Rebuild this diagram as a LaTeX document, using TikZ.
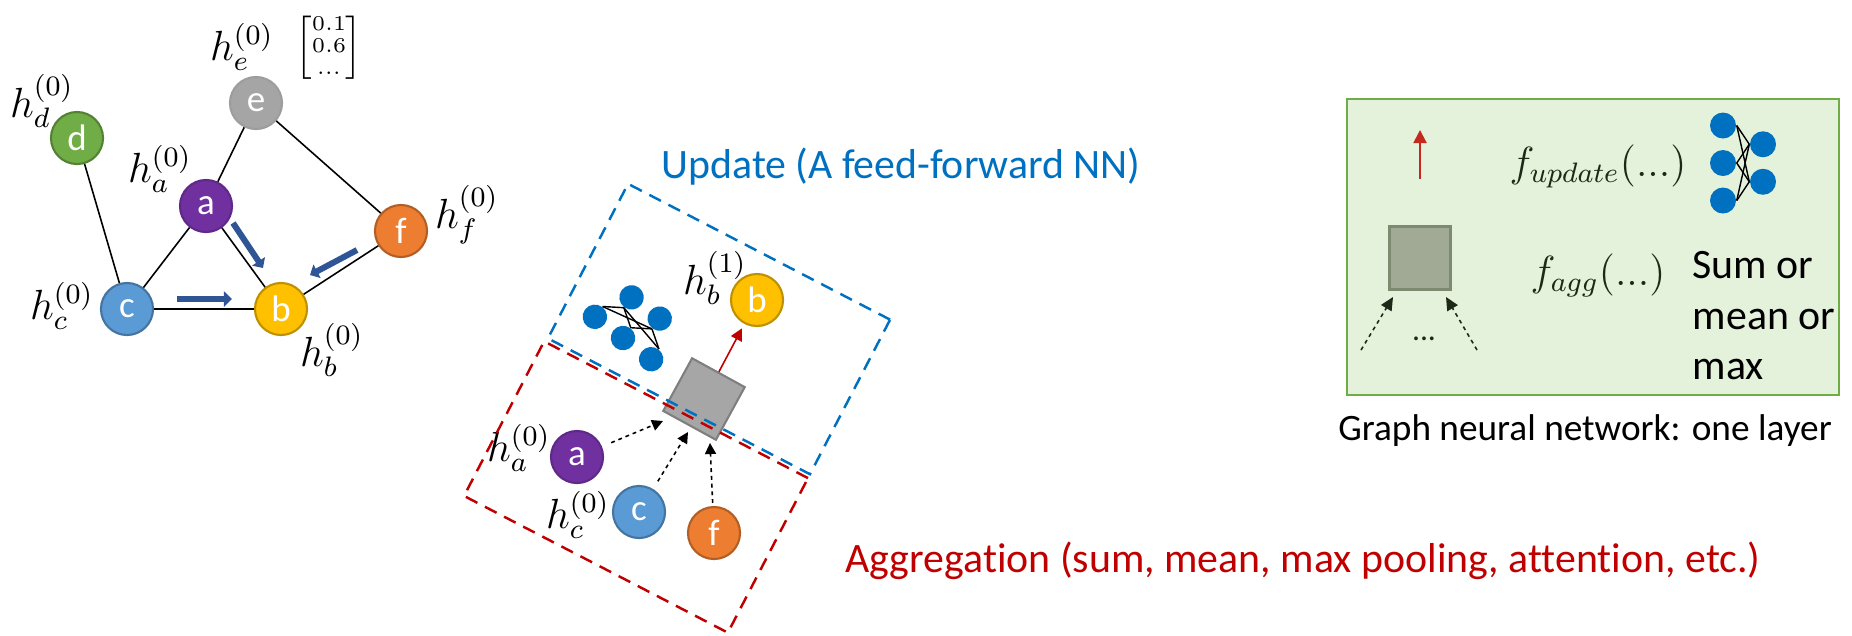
\documentclass[tikz,border=0pt]{standalone}
\usepackage{fontspec}
\newfontfamily\calib[Ligatures=NoCommon]{Carlito}
\usetikzlibrary{arrows.meta}

\definecolor{pura}{RGB}{112,48,160}
\definecolor{goldb}{RGB}{255,192,0}
\definecolor{bluec}{RGB}{91,155,213}
\definecolor{greend}{RGB}{112,173,71}
\definecolor{greye}{RGB}{165,165,165}
\definecolor{orangef}{RGB}{237,125,49}
\definecolor{msgblue}{RGB}{47,85,151}
\definecolor{upblue}{RGB}{0,112,192}
\definecolor{aggred}{RGB}{192,0,0}
\definecolor{panelfill}{RGB}{229,242,219}
\definecolor{panelline}{RGB}{112,173,71}
\definecolor{darkink}{RGB}{30,40,22}
\definecolor{uparrowred}{RGB}{197,40,28}

\tikzset{
  vertex/.style={circle,minimum size=0.52cm,inner sep=0pt,line width=0.6pt,
    text=white,font=\calib\fontsize{10.5}{12}\selectfont},
  nodea/.style={vertex,fill=pura,draw=pura!85!black},
  nodeb/.style={vertex,fill=goldb,draw=goldb!75!black},
  nodec/.style={vertex,fill=bluec,draw=bluec!75!black},
  noded/.style={vertex,fill=greend,draw=greend!75!black},
  nodee/.style={vertex,fill=greye,draw=greye!95!black},
  nodef/.style={vertex,fill=orangef,draw=orangef!75!black},
  link/.style={line width=0.45pt,black},
  hlab/.style={inner sep=0pt,font=\fontsize{11.5}{13}\selectfont},
  msgarrow/.style={line width=0.06cm,msgblue,-{Triangle[length=0.08cm,width=0.15cm]}},
  neuron/.style={circle,fill=upblue,minimum size=0.26cm,inner sep=0pt},
  nnline/.style={line width=0.4pt,black},
  sqbox/.style={minimum size=0.6cm,inner sep=0pt,fill={rgb,255:red,166;green,166;blue,166},
    draw={rgb,255:red,127;green,127;blue,127},line width=0.6pt},
  aggarrow/.style={line width=0.45pt,black,dash pattern=on 1.1pt off 1.1pt,
    -{Triangle[length=0.11cm,width=0.11cm]}},
  updarrow/.style={line width=0.45pt,aggred,-{Triangle[length=0.12cm,width=0.12cm]}},
  updbox/.style={draw=upblue,line width=0.7pt,dash pattern=on 0.13cm off 0.085cm,inner sep=0pt},
  aggbox/.style={draw=aggred,line width=0.7pt,dash pattern=on 0.13cm off 0.085cm,inner sep=0pt},
  bigtext/.style={font=\calib\fontsize{11.9}{14}\selectfont,inner sep=0pt,anchor=base},
  panel/.style={fill=panelfill,draw=panelline,line width=0.5pt,inner sep=0pt,
    minimum width=4.92cm,minimum height=2.96cm},
  sqpanel/.style={minimum width=0.61cm,minimum height=0.63cm,inner sep=0pt,
    fill={rgb,255:red,160;green,170;blue,148},draw={rgb,255:red,125;green,138;blue,112},line width=0.6pt},
  panelarrow/.style={line width=0.45pt,darkink,dash pattern=on 1.1pt off 1.1pt,
    -{Triangle[length=0.13cm,width=0.12cm]}},
  panelup/.style={line width=0.6pt,uparrowred,-{Triangle[length=0.13cm,width=0.13cm]}},
}

% small feed-forward net, 3 inputs and 2 outputs
\newcommand{\nnicon}[1]{%
  \foreach \k/\yy in {1/-37.5,2/0,3/37.5}
    \node[neuron] (#1i\k) at (0,\yy) {};
  \foreach \k/\yy in {1/-18.75,2/18.75}
    \node[neuron] (#1o\k) at (40,\yy) {};
  \foreach \i in {1,2,3}
    \foreach \o in {1,2}
      \draw[nnline] (#1i\i.east) -- (#1o\o.west);
}

\begin{document}
\begin{tikzpicture}[x=0.01cm,y=-0.01cm]
\useasboundingbox (0,0) rectangle (1852,635);

% input graph
\node[nodea] (a) at (206,206) {a};
\node[nodeb] (b) at (281,309) {b};
\node[nodec] (c) at (127,309) {c};
\node[noded] (d) at (77,138) {d};
\node[nodee] (e) at (256,103) {e};
\node[nodef] (f) at (401,231) {f};

\draw[link] (d) -- (c) -- (a) -- (e) -- (f) -- (b) -- (c);
\draw[link] (a) -- (b);

\node[hlab] (hla) at (160,169) {$h_a^{(0)}$};
\node[hlab] (hlb) at (332,350) {$h_b^{(0)}$};
\node[hlab] (hlc) at (62,306) {$h_c^{(0)}$};
\node[hlab] (hld) at (42,101) {$h_d^{(0)}$};
\node[hlab] (hle) at (242,47) {$h_e^{(0)}$};
\node[hlab] (hlf) at (467,215) {$h_f^{(0)}$};
\node[inner sep=0pt,font=\fontsize{6.5}{8.5}\selectfont] (vec) at (329,48)
  {\renewcommand{\arraystretch}{0.74}$\left[\begin{array}{@{}c@{}}0.1\\0.6\\...\end{array}\right]$};

% messages into b
\coordinate (ab1) at (233,223);
\coordinate (ab2) at (263,268);
\coordinate (fb1) at (357,250);
\coordinate (fb2) at (310,275);
\coordinate (cb1) at (177,299);
\coordinate (cb2) at (232,299);
\draw[msgarrow] (ab1) -- (ab2);
\draw[msgarrow] (fb1) -- (fb2);
\draw[msgarrow] (cb1) -- (cb2);

% one layer for node b
\node[sqbox,rotate=-28.7] (sq) at (704,399) {};
\begin{scope}[shift={(623,338)},rotate=53,scale=0.94,transform shape]
  \nnicon{m}
\end{scope}

\node[nodeb] (b2) at (757,300) {b};
\node[nodea] (a2) at (577,457) {a};
\node[nodec] (c2) at (639,512) {c};
\node[nodef] (f2) at (714,533) {f};
\node[hlab] (hlb2) at (715,278) {$h_b^{(1)}$};
\node[hlab] (hla2) at (519,448) {$h_a^{(0)}$};
\node[hlab] (hlc2) at (578,515) {$h_c^{(0)}$};

\coordinate (ta) at (663,421);
\coordinate (tc) at (688,432);
\coordinate (tf) at (710,443);
\draw[aggarrow,shorten <=0.1cm] (a2) -- (ta);
\draw[aggarrow,shorten <=0.09cm] (c2) -- (tc);
\draw[aggarrow,shorten <=0.03cm] (f2) -- (tf);
\draw[updarrow,shorten >=0.05cm] (sq.north) -- (b2);

\node[updbox,minimum width=2.95cm,minimum height=1.74cm,rotate=-27.4] (upd) at (719,329) {};
\node[aggbox,minimum width=2.97cm,minimum height=1.74cm,rotate=-27.4] (aggr) at (636,487) {};

\node[bigtext,text=upblue] (updtxt) at (901,178) {Update (A feed-forward NN)};
\node[bigtext,text=aggred] (aggtxt) at (1303,572) {Aggregation (sum, mean, max pooling, attention, etc.)};

% legend panel
\node[panel] (pnl) at (1593,247) {};
\node[sqpanel] (sqr) at (1420,258) {};
\coordinate (up1) at (1420,179);
\coordinate (up2) at (1420,130);
\draw[panelup] (up1) -- (up2);
\coordinate (in1) at (1361,350);
\coordinate (in2) at (1477,350);
\coordinate (tin1) at (1393,297);
\coordinate (tin2) at (1446,297);
\draw[panelarrow] (in1) -- (tin1);
\draw[panelarrow] (in2) -- (tin2);
\node[inner sep=0pt,anchor=base,text=darkink,font=\calib\fontsize{9}{11}\selectfont] (dots) at (1424,340) {...};

\begin{scope}[shift={(1723,163)}]
  \nnicon{r}
\end{scope}

\node[hlab,anchor=base,text=darkink] (fup) at (1598,176) {$f_{update}(...)$};
\node[hlab,anchor=base,text=darkink] (fagg) at (1598,285) {$f_{agg}(...)$};
\node[bigtext,anchor=base west] (sum1) at (1692,278) {Sum or};
\node[bigtext,anchor=base west] (sum2) at (1692,329) {mean or};
\node[bigtext,anchor=base west] (sum3) at (1692,379) {max};
\node[inner sep=0pt,anchor=base,font=\calib\fontsize{10.6}{13}\selectfont] (cap) at (1585,440) {Graph neural network: one layer};
\end{tikzpicture}
\end{document}
